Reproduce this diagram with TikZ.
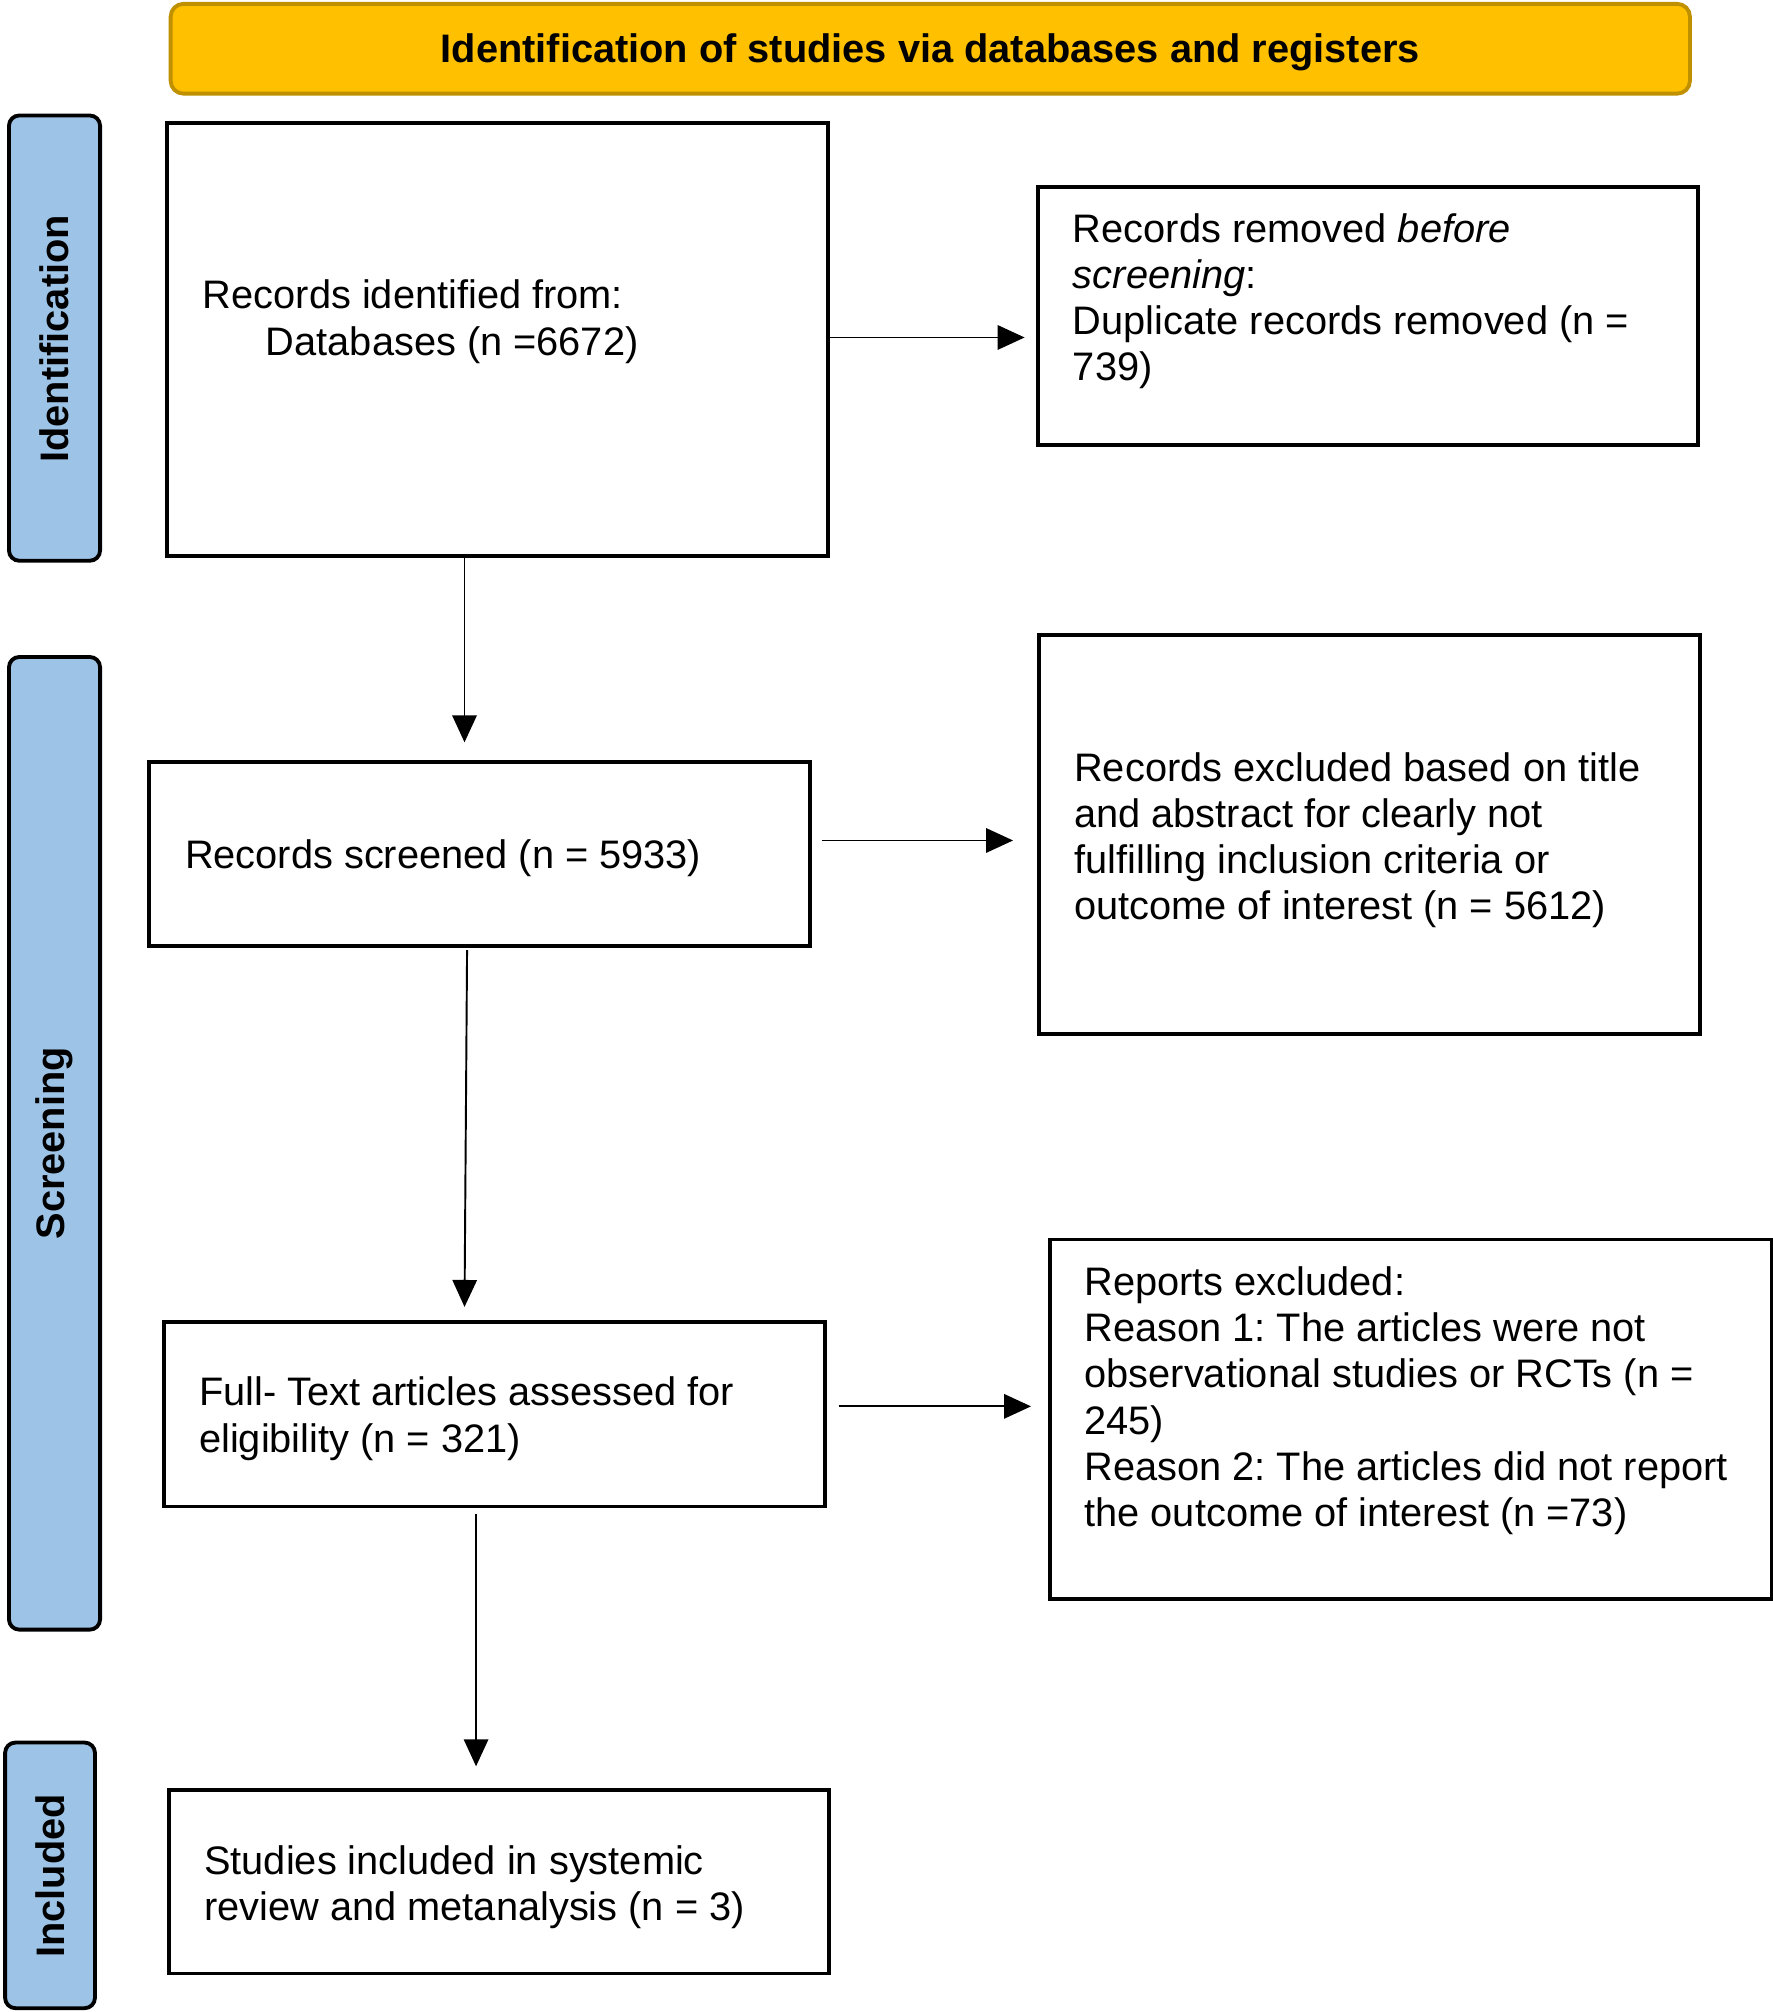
\documentclass[tikz,border=0pt]{standalone}
\usepackage{fontspec}
\setmainfont{Liberation Sans}
\usetikzlibrary{arrows.meta}
\definecolor{gold}{HTML}{FFC000}
\definecolor{golddk}{HTML}{BF9000}
\definecolor{sideblue}{HTML}{9DC3E6}
\newcommand{\fsz}{\fontsize{31}{36}\selectfont}
\frenchspacing
\tikzset{
  x=1pt, y=-1pt,
  boxr/.style={draw=black, line width=3pt, fill=white, inner sep=0},
  sidebar/.style={draw=black, line width=3pt, fill=sideblue, rounded corners=8pt},
  sidetxt/.style={rotate=90, font=\fsz\bfseries, inner sep=0},
  txt/.style={anchor=north west, align=left, inner sep=0, font=\fsz},
  arr/.style={line width=1.5pt, -{Triangle[length=21pt,width=19pt]}},
}
\begin{document}
\begin{tikzpicture}
\useasboundingbox (0,0) rectangle (1381,1568);
% header
\node[draw=golddk, line width=3pt, fill=gold, rounded corners=10pt, minimum width=1184pt, minimum height=70pt, inner sep=0, text height=22pt, text depth=0pt, font=\fsz\bfseries] (hdr) at (725,38) {Identification of studies via databases and registers};
% side bars
\draw[sidebar] (7,90) rectangle (78,437);
\node[sidetxt] (sid) at (42.5,264) {Identification};
\draw[sidebar] (7,512) rectangle (78,1270);
\node[sidetxt] (sscr) at (42.5,891) {Screening};
\draw[sidebar] (4,1358) rectangle (74,1565);
\node[sidetxt] (sinc) at (39,1462) {Included};
% boxes
\node[boxr, minimum width=515pt, minimum height=337pt] (b1) at (387.5,264.5) {};
\node[boxr, minimum width=514pt, minimum height=201pt] (b2) at (1066,246.5) {};
\node[boxr, minimum width=515pt, minimum height=143pt] (b3) at (373.5,665.5) {};
\node[boxr, minimum width=515pt, minimum height=311pt] (b4) at (1067.5,650.5) {};
\node[boxr, minimum width=515pt, minimum height=144pt] (b5) at (385.5,1102) {};
\node[boxr, minimum width=563pt, minimum height=280pt] (b6) at (1099.5,1106) {};
\node[boxr, minimum width=514pt, minimum height=143pt] (b7) at (389,1466.5) {};
% texts
\node[txt] (t1) at (158,218) {Records identified from:\\\hspace*{49pt}Databases (n =6672)};
\node[txt] (t2) at (836,166) {Records removed \textit{before}\\\textit{screening}:\\Duplicate records removed (n =\\739)};
\node[txt] (t3) at (144,654) {Records screened (n = 5933)};
\node[txt] (t4) at (837,586) {Records excluded based on title\\and abstract for clearly not\\fulfilling inclusion criteria or\\outcome of interest (n = 5612)};
\node[txt] (t5) at (155,1073) {Full- Text articles assessed for\\eligibility (n = 321)};
\node[txt] (t6) at (845,987) {Reports excluded:\\Reason 1: The articles were not\\observational studies or RCTs (n =\\245)\\Reason 2: The articles did not report\\the outcome of interest (n =73)};
\node[txt] (t7) at (159,1438) {Studies included in systemic\\review and metanalysis (n = 3)};
% connectors (yshift is in canvas direction: positive = up)
\draw[arr] ([yshift=1.5pt]b1.east) -- ([xshift=-9pt,yshift=-16.5pt]b2.west);
\draw[arr] ([xshift=-25.5pt]b1.south) -- ([xshift=-11.5pt,yshift=14pt]b3.north);
\draw[arr] ([xshift=8pt,yshift=10.5pt]b3.east) -- ([xshift=-19pt,yshift=-4.5pt]b4.west);
\draw[arr] ([xshift=-9.5pt,yshift=-2pt]b3.south) -- ([xshift=-23.5pt,yshift=10pt]b5.north);
\draw[arr] ([xshift=9pt,yshift=6pt]b5.east) -- ([xshift=-13pt,yshift=10pt]b6.west);
\draw[arr] ([xshift=-14.5pt,yshift=-4pt]b5.south) -- ([xshift=-18pt,yshift=17pt]b7.north);
\end{tikzpicture}
\end{document}
